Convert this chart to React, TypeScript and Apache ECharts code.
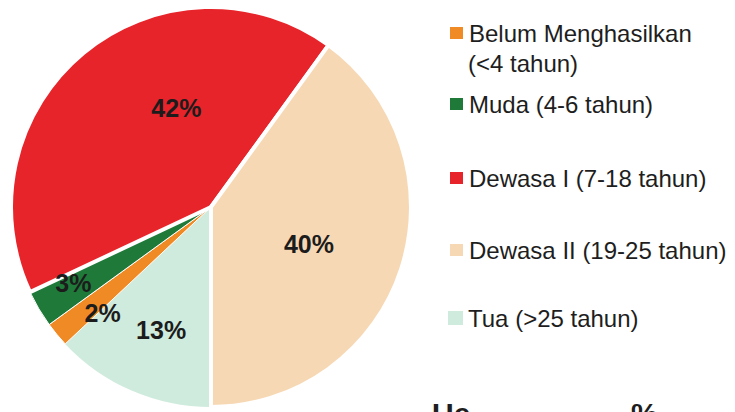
import React, { useEffect, useRef } from 'react';
import * as echarts from 'echarts';

const legendNames = ['Belum Menghasilkan', 'Muda (4-6 tahun)', 'Dewasa I (7-18 tahun)', 'Dewasa II (19-25 tahun)', 'Tua (>25 tahun)'];
const belumSecondLine = '(<4 tahun)';
const sliceNames = ['Tua (>25 tahun)', 'Belum Menghasilkan', 'Muda (4-6 tahun)', 'Dewasa I (7-18 tahun)', 'Dewasa II (19-25 tahun)'];
const sliceValues = [13, 2, 3, 42, 40];
const sliceColors = ['#CFEBDD', '#F08A24', '#1F7A3A', '#E8242B', '#F7D8B4'];
const sliceBorders = [0, 1, 1, 4, 4];
const labelShift = [[-9, 28], [-29, 40], [-49, 24], [31, -20], [0, 5]];
const legendCenters = [33, 104, 178, 250, 318];
const footerTexts = ['Ue', '%'];

const FONT = "'Liberation Sans', Arial, sans-serif";

export default function App() {
  const ref = useRef<HTMLDivElement>(null);
  useEffect(() => {
    if (!ref.current) return;
    const chart = echarts.init(ref.current, undefined, { renderer: 'svg' });
    const colorOf = (name: string) => sliceColors[sliceNames.indexOf(name)];
    chart.setOption({
      animation: false,
      backgroundColor: '#ffffff',
      legend: legendNames.map((n, i) => ({
        data: [{ name: n, itemStyle: { color: colorOf(n) } }],
        left: 448,
        top: legendCenters[i] - 14,
        padding: 0,
        itemWidth: 15,
        itemHeight: 14,
        icon: 'rect',
        selectedMode: false,
        textStyle: { fontFamily: FONT, fontSize: 24, lineHeight: 28, color: '#1e1e1e' },
      })),
      graphic: [
        {
          type: 'text',
          left: 468,
          top: 63 - 14,
          style: { text: belumSecondLine, font: `24px ${FONT}`, fill: '#1e1e1e', lineHeight: 28 },
        },
        {
          type: 'text',
          left: 432,
          top: 398,
          style: { text: footerTexts[0], font: `bold 30px ${FONT}`, fill: '#1e1e1e' },
        },
        {
          type: 'text',
          left: 631,
          top: 398,
          style: { text: footerTexts[1], font: `bold 30px ${FONT}`, fill: '#1e1e1e' },
        },
      ],
      series: [
        {
          type: 'pie',
          center: [211, 207],
          radius: [0, 200],
          startAngle: -90,
          clockwise: true,
          silent: true,
          data: sliceNames.map((n, i) => ({
            name: n,
            value: sliceValues[i],
            itemStyle: { color: sliceColors[i], borderColor: '#ffffff', borderWidth: sliceBorders[i] },
          })),
          label: {
            show: true,
            position: 'inside',
            formatter: '{c}%',
            fontFamily: FONT,
            fontSize: 25,
            fontWeight: 'bold',
            color: '#1c1c1c',
          },
          labelLine: { show: false },
          labelLayout: (params: any) => ({
            dx: labelShift[params.dataIndex][0],
            dy: labelShift[params.dataIndex][1],
          }),
          emphasis: { disabled: true },
        },
      ],
    });
    return () => chart.dispose();
  }, []);
  return (
    <div
      ref={ref}
      style={{ position: 'absolute', left: 0, top: 0, width: 735, height: 412, overflow: 'hidden' }}
    />
  );
}
